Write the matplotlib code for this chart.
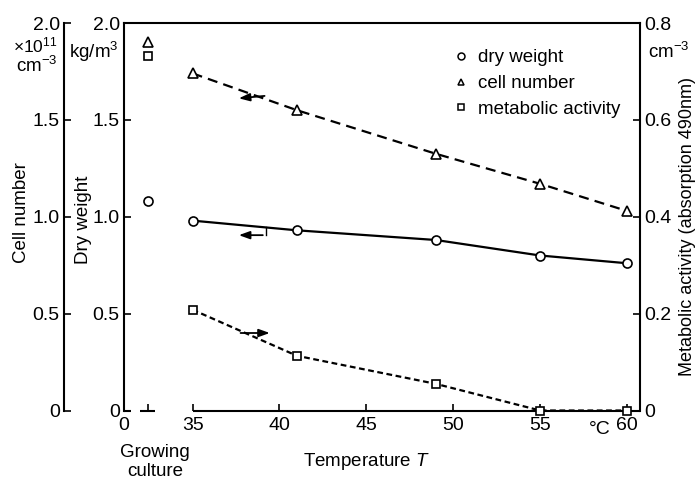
import matplotlib
matplotlib.use('Agg')
import matplotlib.pyplot as plt
from matplotlib.lines import Line2D

# values
temperature = [35, 41, 49, 55, 60]
dry_weight = [0.98, 0.93, 0.88, 0.80, 0.76]
cell_number = [1.74, 1.55, 1.325, 1.17, 1.03]
metabolic_activity = [0.208, 0.113, 0.055, 0.0, 0.0]

growing_x = 32.45
growing_dry_weight = 1.08
growing_cell_number = 1.90
growing_metabolic = 0.732

x_ticks = [35, 40, 45, 50, 55, 60]
x_labels = ['35', '40', '45', '50', '55', '60']
left_ticks = [0, 0.5, 1.0, 1.5, 2.0]
left_labels = ['0', '0.5', '1.0', '1.5', '2.0']
right_ticks = [0, 0.2, 0.4, 0.6, 0.8]
right_labels = ['0', '0.2', '0.4', '0.6', '0.8']

plt.rcParams['font.family'] = ['Liberation Sans', 'DejaVu Sans']
plt.rcParams['font.size'] = 13
plt.rcParams['mathtext.fontset'] = 'custom'
plt.rcParams['mathtext.rm'] = 'Liberation Sans'
plt.rcParams['mathtext.it'] = 'Liberation Sans:italic'

W, H = 695, 482
fig = plt.figure(figsize=(W / 100, H / 100), dpi=100)
x0, x1, y0, y1 = 124, 640, 410.5, 23
ax = fig.add_axes([x0 / W, 1 - y0 / H, (x1 - x0) / W, (y0 - y1) / H])
ax.set_xlim(31.05, 60.75)
ax.set_ylim(0, 2.0)

ax2 = ax.twinx()
ax2.set_ylim(0, 0.8)
ax3 = ax.twinx()
ax3.set_ylim(0, 2.0)

lw_axis = 1.5
tick_kw = dict(direction='in', length=5, width=1.2, colors='k', pad=3, labelsize=14)

# main axis (dry weight)
for s in ['right', 'bottom']:
    ax.spines[s].set_visible(False)
ax.spines['left'].set_linewidth(lw_axis)
ax.spines['top'].set_linewidth(lw_axis)
ax.set_yticks(left_ticks)
ax.set_yticklabels(left_labels)
ax.set_xticks([31.05, growing_x] + x_ticks)
ax.set_xticklabels(['0', ''] + x_labels)
ax.tick_params(axis='both', **tick_kw)
ax.tick_params(axis='x', pad=5)

# broken bottom axis
xt = ax.get_xaxis_transform()
for seg in [(31.05, 31.45), (31.95, 32.85), (35, 60.75)]:
    ax.plot(seg, [0, 0], transform=xt, color='k', lw=lw_axis, clip_on=False,
            solid_capstyle='butt')

# right axis (metabolic activity)
for s in ['top', 'left', 'bottom']:
    ax2.spines[s].set_visible(False)
ax2.spines['right'].set_linewidth(lw_axis)
ax2.set_yticks(right_ticks)
ax2.set_yticklabels(right_labels)
ax2.tick_params(axis='y', **tick_kw)

# outer left axis (cell number)
for s in ['top', 'right', 'bottom']:
    ax3.spines[s].set_visible(False)
ax3.yaxis.set_ticks_position('left')
ax3.spines['left'].set_position(('axes', -(x0 - 64) / (x1 - x0)))
ax3.spines['left'].set_linewidth(lw_axis)
ax3.set_yticks(left_ticks)
ax3.set_yticklabels(left_labels)
ax3.tick_params(axis='y', **tick_kw)

mk = dict(mfc='white', mec='k', mew=1.2, ms=6.5, zorder=5, clip_on=False)

ax.plot(temperature, dry_weight, color='k', lw=1.6, marker='o', **mk)
ax.plot([growing_x], [growing_dry_weight], ls='none', marker='o', **mk)

ax3.plot(temperature, cell_number, color='k', lw=1.6, ls=(0, (4.5, 2.8)),
         marker='^', **mk)
ax3.plot([growing_x], [growing_cell_number], ls='none', marker='^', **mk)

ax2.plot(temperature, metabolic_activity, color='k', lw=1.6, ls=(0, (2.6, 1.6)),
         marker='s', **dict(mk, ms=5.5))
ax2.plot([growing_x], [growing_metabolic], ls='none', marker='s', **dict(mk, ms=5.5))

# direction arrows
arr = dict(arrowstyle='-|>,head_length=0.5,head_width=0.18', color='k', lw=1.3)
ax.annotate('', xy=(37.5, 1.61), xytext=(39.3, 1.625), arrowprops=arr)
ax.annotate('', xy=(37.5, 0.905), xytext=(39.2, 0.905), arrowprops=arr)
ax.plot([39.2, 39.2], [0.905, 0.945], color='k', lw=1.0)
ax.annotate('', xy=(39.6, 0.40), xytext=(37.6, 0.40), arrowprops=arr)

# legend
handles = [
    Line2D([], [], ls='none', marker='o', mfc='white', mec='k', mew=1.1, ms=5),
    Line2D([], [], ls='none', marker='^', mfc='white', mec='k', mew=1.1, ms=5),
    Line2D([], [], ls='none', marker='s', mfc='white', mec='k', mew=1.1, ms=4),
]
ax2.legend(handles, ['dry weight', 'cell number', 'metabolic activity'],
           loc='upper left', bbox_to_anchor=(444 / W, 1 - 40 / H),
           bbox_transform=fig.transFigure, frameon=False, fontsize=13.5,
           handlelength=0.8, handletextpad=0.5, labelspacing=0.45, borderpad=0)

# axis texts
fig.text(22 / W, 1 - 213 / H, 'Cell number', rotation=90, ha='center', va='center', fontsize=13.5)
fig.text(84 / W, 1 - 220 / H, 'Dry weight', rotation=90, ha='center', va='center', fontsize=13.5)
fig.text(687 / W, 1 - 227 / H, 'Metabolic activity (absorption 490nm)', rotation=90,
         ha='center', va='center', fontsize=13)
fig.text(58 / W, 1 - 45 / H, r'$\times$10$^{11}$', ha='right', va='center', fontsize=12.5)
fig.text(58 / W, 1 - 66 / H, 'cm$^{-3}$', ha='right', va='center', fontsize=13.5)
fig.text(119 / W, 1 - 52 / H, 'kg/m$^3$', ha='right', va='center', fontsize=13.5)
fig.text(648 / W, 1 - 52 / H, 'cm$^{-3}$', ha='left', va='center', fontsize=13.5)
fig.text(600 / W, 1 - 429 / H, '°C', ha='center', va='center', fontsize=14)
fig.text(367 / W, 1 - 461 / H, 'Temperature $\\mathit{T}$', ha='center', va='center', fontsize=13.5)
fig.text(155 / W, 1 - 462 / H, 'Growing\nculture', ha='center', va='center', fontsize=13.5,
         linespacing=1.1)

fig.savefig('out.png', dpi=100)
